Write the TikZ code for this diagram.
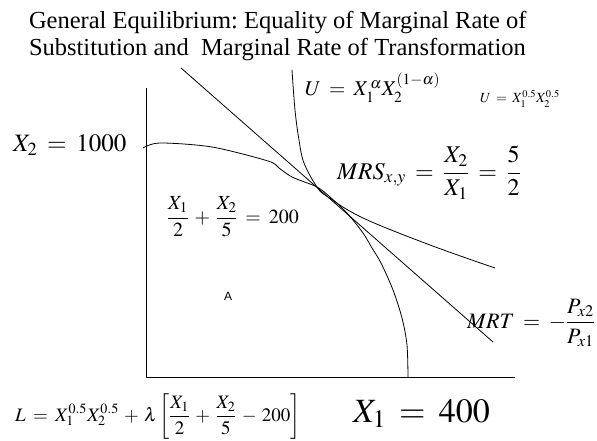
\documentclass[tikz,border=0pt]{standalone}
\usepackage{mathptmx}
\usepackage{fontspec}
\setmainfont{Liberation Serif}
\newfontfamily\arialf{Liberation Sans}
\newcommand{\fs}[1]{\fontsize{#1}{1.2\dimexpr #1pt\relax}\selectfont}
\thickmuskip=7mu plus 2mu
\medmuskip=5mu plus 2mu
\frenchspacing
\begin{document}
\begin{tikzpicture}[x=1pt,y=-1pt]
\tikzset{
  lbl/.style={anchor=base west, inner sep=0pt, outer sep=0pt},
  curve/.style={draw=black, line width=0.8pt, line join=round},
}
\useasboundingbox (0,0) rectangle (597,441);
% title
\node[lbl, font=\fs{24.5}] (t1) at (29,29) {General Equilibrium: Equality of Marginal Rate of};
\node[lbl, font=\fs{24.5}] (t2) at (29,56) {Substitution and\ \ Marginal Rate of Transformation};
% axes
\coordinate (ytop) at (146,88);
\coordinate (origin) at (146,377);
\coordinate (xend) at (515,377);
\draw[curve] (ytop) -- (origin) -- (xend);
% tangent line
\coordinate (la) at (181,68);
\coordinate (lb) at (493,342);
\draw[curve] (la) -- (lb);
% indifference curve
\draw[curve] plot[smooth, tension=0.6] coordinates {(292,70) (295,110) (299,140) (304,163) (317,187) (328,197) (363,218) (430,245) (495,268)};
% production possibility frontier
\draw[curve] plot[smooth, tension=0.5] coordinates {(143,148) (160,143) (212,147) (268,161) (279,168) (292,177) (317,187) (330,197) (347,213) (363,233) (372,248) (381,263) (393,290) (402,318) (407,345) (408,377)};
% labels
\node[lbl, font=\fs{25}] (x2) at (13,152) {$X_2 = 1000$};
\node[lbl, font=\fs{21}] (uab) at (305,96) {$U = X_1^{\,\alpha} X_2^{(1-\alpha)}$};
\node[lbl, font=\fs{14}] (uhalf) at (480,103) {$U = X_1^{0.5} X_2^{0.5}$};
\node[lbl, font=\fs{24}] (mrs) at (337,179) {$\displaystyle MRS_{x,y} = \frac{X_2}{X_1} = \frac{5}{2}$};
\node[lbl, font=\fs{20}] (bud) at (167,223) {$\displaystyle \frac{X_1}{2} + \frac{X_2}{5} = 200$};
\node[font=\arialf\fs{12}, inner sep=0pt] (a) at (228,296) {A};
\node[lbl, font=\fs{22}] (mrt) at (467,328) {$\displaystyle MRT = -\frac{P_{x2}}{P_{x1}}$};
\node[lbl, font=\fs{19}] (lag) at (15,421) {$\displaystyle L = X_1^{0.5} X_2^{0.5} + \lambda\left[\frac{X_1}{2} + \frac{X_2}{5} - 200\right]$};
\node[lbl, font=\fs{34}] (x1) at (353,422) {$X_1 = 400$};
\end{tikzpicture}
\end{document}
